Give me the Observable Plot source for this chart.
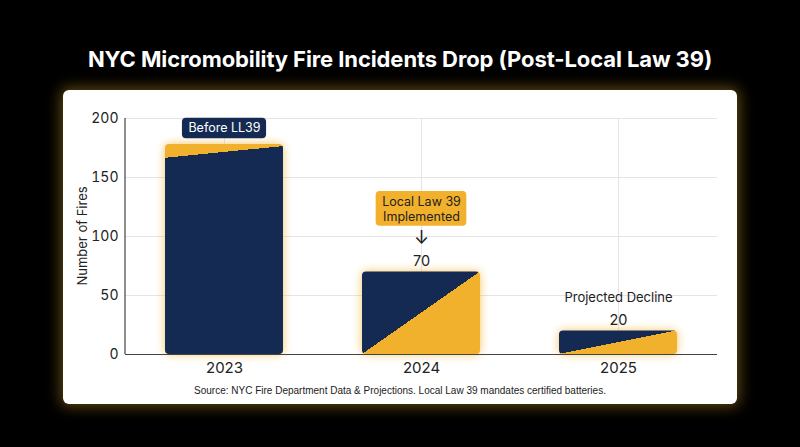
<!DOCTYPE html>
<html>
<head>
<meta charset="utf-8">
<script src="https://cdn.jsdelivr.net/npm/d3@7"></script>
<script src="https://cdn.jsdelivr.net/npm/@observablehq/plot@0.6"></script>
<style>
  html, body { margin: 0; padding: 0; background: #000; width: 800px; height: 447px; overflow: hidden; }
  #title { position: absolute; top: 46px; left: 0; width: 800px; text-align: center; color: #fff;
    font-family: Inter, "DejaVu Sans", sans-serif; font-weight: 700; font-size: 22px; letter-spacing: -0.1px; }
  #panel { position: absolute; left: 63px; top: 90px; width: 674px; height: 314px; background: #fff;
    border-radius: 6px; box-shadow: 0 0 14px 3px rgba(255, 190, 50, 0.35); }
  #chart { position: absolute; left: 0; top: 0; }
  #caption { position: absolute; left: 0; top: 295px; width: 674px; text-align: center;
    font-family: "Liberation Sans", Arial, sans-serif; font-size: 10px; color: #222; }
</style>
</head>
<body>
<div id="title">NYC Micromobility Fire Incidents Drop (Post-Local Law 39)</div>
<div id="panel">
  <div id="chart"></div>
  <div id="caption">Source: NYC Fire Department Data &amp; Projections. Local Law 39 mandates certified batteries.</div>
</div>
<script>
const years = ["2023", "2024", "2025"];
const fires = [178, 70, 20];
const notes = ["Before LL39", "Local Law 39\nImplemented", "Projected Decline"];
const shownValues = ["", "70", "20"];
const yTicks = [0, 50, 100, 150, 200];

const data = years.map((year, i) => ({year, fires: fires[i], note: notes[i], shown: shownValues[i]}));

const NAVY = "#142a52", GOLD = "#f2b12c";
const FONT = "Inter, 'DejaVu Sans', sans-serif";
const NOTE_SIZE = 12.5, LINE_H = 1.15;

function defsMark() {
  const defs = d3.create("svg:defs");
  const mk = (id, x1, y1, x2, y2, c1, c2) => {
    const g = defs.append("linearGradient").attr("id", id)
      .attr("x1", x1).attr("y1", y1).attr("x2", x2).attr("y2", y2);
    g.append("stop").attr("offset", 0).attr("stop-color", c1);
    g.append("stop").attr("offset", 0.5).attr("stop-color", c1);
    g.append("stop").attr("offset", 0.5).attr("stop-color", c2);
    g.append("stop").attr("offset", 1).attr("stop-color", c2);
  };
  mk("grad-2023", 0.4944, -0.062, 0.5056, 0.138, GOLD, NAVY);
  mk("grad-2024", 0, 0, 1, 1, NAVY, GOLD);
  mk("grad-2025", 0, 0, 1, 1, NAVY, GOLD);
  return defs.node();
}

function leftLine(index, scales, values, dims) {
  return d3.create("svg:line")
    .attr("x1", dims.marginLeft).attr("x2", dims.marginLeft)
    .attr("y1", dims.marginTop).attr("y2", dims.height - dims.marginBottom)
    .attr("stroke", "#444").attr("stroke-width", 1.2).node();
}

const measureCtx = document.createElement("canvas").getContext("2d");
function noteBoxes(specs) {
  return (index, scales, values, dims) => {
    const g = d3.create("svg:g");
    const bw = scales.x.bandwidth ? scales.x.bandwidth() : 0;
    for (const s of specs) {
      const d = data.find(e => e.year === s.year);
      const lines = d.note.split("\n");
      measureCtx.font = `${NOTE_SIZE}px ${FONT}`;
      const w = Math.max(...lines.map(l => measureCtx.measureText(l).width)) + 2 * s.padX;
      const h = lines.length * NOTE_SIZE * LINE_H + 2 * s.padY;
      const cx = scales.x(d.year) + bw / 2;
      const cy = scales.y(d.fires) + s.dy;
      g.append("rect").attr("x", cx - w / 2).attr("y", cy - h / 2)
        .attr("width", w).attr("height", h).attr("rx", 4).attr("fill", s.fill);
    }
    return g.node();
  };
}

const plot = Plot.plot({
  width: 674,
  height: 290,
  marginLeft: 62,
  marginRight: 20,
  marginTop: 28,
  marginBottom: 26,
  style: {fontFamily: FONT, color: "#222", background: "transparent"},
  x: {domain: years, paddingInner: 0.4, paddingOuter: 0.2, label: null},
  y: {domain: [0, 200], label: null},
  marks: [
    defsMark,
    Plot.gridY(yTicks, {stroke: "#e4e4e4", strokeOpacity: 1}),
    Plot.gridX(years, {stroke: "#e4e4e4", strokeOpacity: 1}),
    Plot.barY(data, {x: "year", y: "fires", fill: d => `url(#grad-${d.year})`, rx: 4}),
    Plot.ruleY([0], {stroke: "#444", strokeWidth: 1.2}),
    leftLine,
    Plot.axisY(yTicks, {tickSize: 0, tickPadding: 7, fontSize: 14, label: null}),
    Plot.axisX({tickSize: 0, tickPadding: 8, fontSize: 15, label: null}),
    noteBoxes([
      {year: "2023", dy: -16, fill: NAVY, padX: 6, padY: 3},
      {year: "2024", dy: -63, fill: GOLD, padX: 6, padY: 3}
    ]),
    Plot.text(data.filter(d => d.year === "2023"), {x: "year", y: "fires", text: "note", dy: -16, fill: "#fff", fontSize: NOTE_SIZE}),
    Plot.text(data.filter(d => d.year === "2024"), {x: "year", y: "fires", text: "note", dy: -63, fill: "#222", fontSize: NOTE_SIZE, lineHeight: LINE_H}),
    Plot.text(data.filter(d => d.year === "2024"), {x: "year", y: "fires", text: () => "↓", dy: -34, fill: "#222", fontSize: 18}),
    Plot.text(data.filter(d => d.year === "2025"), {x: "year", y: "fires", text: "note", dy: -33, fill: "#222", fontSize: 13}),
    Plot.text(data.filter(d => d.shown), {x: "year", y: "fires", text: "shown", dy: -11, fill: "#222", fontSize: 14.5})
  ]
});

document.getElementById("chart").appendChild(plot);

// y-axis title
d3.select(plot).append("text")
  .attr("transform", `translate(20,${(28 + 264) / 2}) rotate(-90)`)
  .attr("text-anchor", "middle").attr("dominant-baseline", "middle")
  .attr("font-size", 13).attr("fill", "#222")
  .attr("font-family", FONT)
  .text("Number of Fires");

// glow on bars
d3.select(plot).selectAll('g[aria-label="bar"]')
  .style("filter", "drop-shadow(0 0 5px rgba(245,176,40,0.75))");
</script>
</body>
</html>
